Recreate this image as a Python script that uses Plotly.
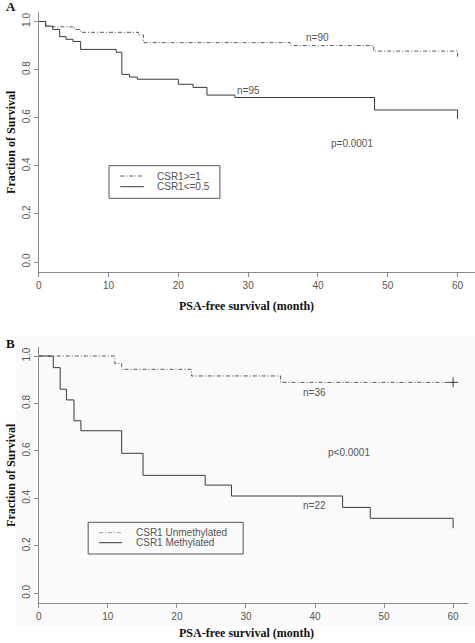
import plotly.graph_objects as go

W, H = 475, 643

# ---------------- data ----------------
# Panel A
a_hi_label = "CSR1>=1"
a_hi_times = [1.0, 5.1, 6.0, 14.3, 15.0, 36.0, 48.0, 60.0]
a_hi_surv = [0.978, 0.967, 0.955, 0.944, 0.912, 0.900, 0.877, 0.851]
a_lo_label = "CSR1<=0.5"
a_lo_times = [1.0, 2.0, 3.0, 3.9, 4.9, 6.0, 11.1, 11.9, 13.0, 14.1, 20.0, 22.1, 24.1, 28.1, 48.1, 60.0]
a_lo_surv = [0.981, 0.967, 0.937, 0.926, 0.917, 0.884, 0.872, 0.780, 0.769, 0.760, 0.739, 0.726, 0.694, 0.684, 0.632, 0.595]
a_notes = [("n=90", 40.0, 0.934), ("n=95", 30.0, 0.715), ("p=0.0001", 44.9, 0.494)]

# Panel B
b_un_label = "CSR1 Unmethylated"
b_un_times = [11.0, 12.0, 22.1, 35.0, 60.0]
b_un_surv = [0.969, 0.944, 0.916, 0.889, 0.889]
b_un_censor_t = [60.0]
b_un_censor_s = [0.889]
b_me_label = "CSR1 Methylated"
b_me_times = [2.1, 3.1, 4.0, 5.1, 6.1, 12.0, 15.1, 24.1, 27.9, 44.0, 48.0, 60.0]
b_me_surv = [0.951, 0.860, 0.815, 0.727, 0.685, 0.590, 0.497, 0.456, 0.410, 0.362, 0.316, 0.274]
b_notes = [("n=36", 39.9, 0.847), ("p<0.0001", 44.9, 0.592), ("n=22", 39.9, 0.368)]

x_ticks = [0, 10, 20, 30, 40, 50, 60]
y_ticks = [0.0, 0.2, 0.4, 0.6, 0.8, 1.0]
y_tick_text = ["0.0", "0.2", "0.4", "0.6", "0.8", "1.0"]
x_title = "PSA-free survival (month)"
y_title = "Fraction of Survival"

# ---------------- style ----------------
CURVE = "#3a3a3a"
DASHC = "#5a5a5a"
AXC = "#8a8a8a"
TXT = "#555555"
SANS = "Liberation Sans, Arial, sans-serif"
SERIF = "Liberation Serif, Times New Roman, serif"
DASH = "4px,2px,1px,2px"


def px(x):
    return x / W


def py(y):
    return 1 - y / H


def km(t, s):
    return [0.0] + list(t), [1.0] + list(s)


fig = go.Figure()

xa, ya = km(a_hi_times, a_hi_surv)
fig.add_trace(go.Scatter(x=xa, y=ya, mode="lines", line=dict(shape="hv", color=DASHC, width=1, dash=DASH),
                         name=a_hi_label, xaxis="x", yaxis="y", showlegend=False))
xa, ya = km(a_lo_times, a_lo_surv)
fig.add_trace(go.Scatter(x=xa, y=ya, mode="lines", line=dict(shape="hv", color=CURVE, width=1),
                         name=a_lo_label, xaxis="x", yaxis="y", showlegend=False))
xb, yb = km(b_un_times, b_un_surv)
fig.add_trace(go.Scatter(x=xb, y=yb, mode="lines", line=dict(shape="hv", color=DASHC, width=1, dash=DASH),
                         name=b_un_label, xaxis="x2", yaxis="y2", showlegend=False))
fig.add_trace(go.Scatter(x=b_un_censor_t, y=b_un_censor_s, mode="markers",
                         marker=dict(symbol="cross-thin", size=7, line=dict(color=CURVE, width=1)),
                         xaxis="x2", yaxis="y2", showlegend=False))
xb, yb = km(b_me_times, b_me_surv)
fig.add_trace(go.Scatter(x=xb, y=yb, mode="lines", line=dict(shape="hv", color=CURVE, width=1),
                         name=b_me_label, xaxis="x2", yaxis="y2", showlegend=False))

axis_common = dict(showline=True, linecolor=AXC, linewidth=1, mirror=False, showgrid=False, zeroline=False,
                   ticks="outside", ticklen=4, tickcolor=AXC, tickfont=dict(family=SANS, size=10, color=TXT))

fig.update_layout(
    width=W, height=H, margin=dict(l=0, r=0, t=0, b=0),
    paper_bgcolor="white", plot_bgcolor="rgba(0,0,0,0)",
    xaxis=dict(domain=[px(36), px(475)], range=[0, 62.5], tickvals=x_ticks, anchor="y", **axis_common),
    yaxis=dict(domain=[py(272), py(12)], range=[-0.0416, 1.0395], tickvals=y_ticks, ticktext=y_tick_text,
               tickangle=-90, anchor="x", **axis_common),
    xaxis2=dict(domain=[px(36), px(468)], range=[0, 62.16], tickvals=x_ticks, anchor="y2", **axis_common),
    yaxis2=dict(domain=[py(603), py(347)], range=[-0.041, 1.038], tickvals=y_ticks, ticktext=y_tick_text,
                tickangle=-90, anchor="x2", **axis_common),
)

shapes = []
annos = []

# light background of panel B
shapes.append(dict(type="rect", xref="paper", yref="paper", x0=px(13), x1=px(475), y0=py(626), y1=py(336),
                   fillcolor="#fafafa", line=dict(width=0), layer="below"))

# notes
for t, x, y in a_notes:
    annos.append(dict(text=t, x=x, y=y, xref="x", yref="y", showarrow=False,
                      font=dict(family=SANS, size=10, color=TXT)))
for t, x, y in b_notes:
    annos.append(dict(text=t, x=x, y=y, xref="x2", yref="y2", showarrow=False,
                      font=dict(family=SANS, size=10, color=TXT)))

# panel letters and axis titles
for letter, yy in (("A", 7), ("B", 343)):
    annos.append(dict(text="<b>%s</b>" % letter, x=px(1), y=py(yy), xref="paper", yref="paper",
                      xanchor="left", yanchor="middle", showarrow=False,
                      font=dict(family=SERIF, size=13, color="#111")))
for yy in (306, 633):
    annos.append(dict(text="<b>%s</b>" % x_title, x=px(245), y=py(yy), xref="paper", yref="paper",
                      xanchor="center", yanchor="middle", showarrow=False,
                      font=dict(family=SERIF, size=12, color="#111")))
for yy in (142, 475):
    annos.append(dict(text="<b>%s</b>" % y_title, x=px(8), y=py(yy), xref="paper", yref="paper",
                      xanchor="center", yanchor="middle", textangle=-90, showarrow=False,
                      font=dict(family=SERIF, size=12, color="#111")))

# manual legends
legends = [
    dict(box=(106.7, 218.3, 165.7, 198.3), sx=(118, 141.7), tx=152.7, rows=(176, 186.7),
         items=[(a_hi_label, DASHC, DASH), (a_lo_label, CURVE, "solid")]),
    dict(box=(85.7, 241.7, 522.3, 554), sx=(96.7, 120), tx=131.7, rows=(532.7, 542.7),
         items=[(b_un_label, "#9a9a9a", DASH), (b_me_label, CURVE, "solid")]),
]
for lg in legends:
    x0, x1, y0, y1 = lg["box"]
    shapes.append(dict(type="rect", xref="paper", yref="paper", x0=px(x0), x1=px(x1), y0=py(y1), y1=py(y0),
                       line=dict(color="#555", width=1), fillcolor="rgba(0,0,0,0)"))
    for (lab, col, dash), ry in zip(lg["items"], lg["rows"]):
        shapes.append(dict(type="line", xref="paper", yref="paper", x0=px(lg["sx"][0]), x1=px(lg["sx"][1]),
                           y0=py(ry), y1=py(ry), line=dict(color=col, width=1, dash=dash)))
        annos.append(dict(text=lab, x=px(lg["tx"]), y=py(ry), xref="paper", yref="paper",
                          xanchor="left", yanchor="middle", showarrow=False,
                          font=dict(family=SANS, size=10, color=TXT)))

fig.update_layout(shapes=shapes, annotations=annos)
fig.write_html("out.html", config={"displayModeBar": False},
               post_script="document.body.style.margin='0';")
